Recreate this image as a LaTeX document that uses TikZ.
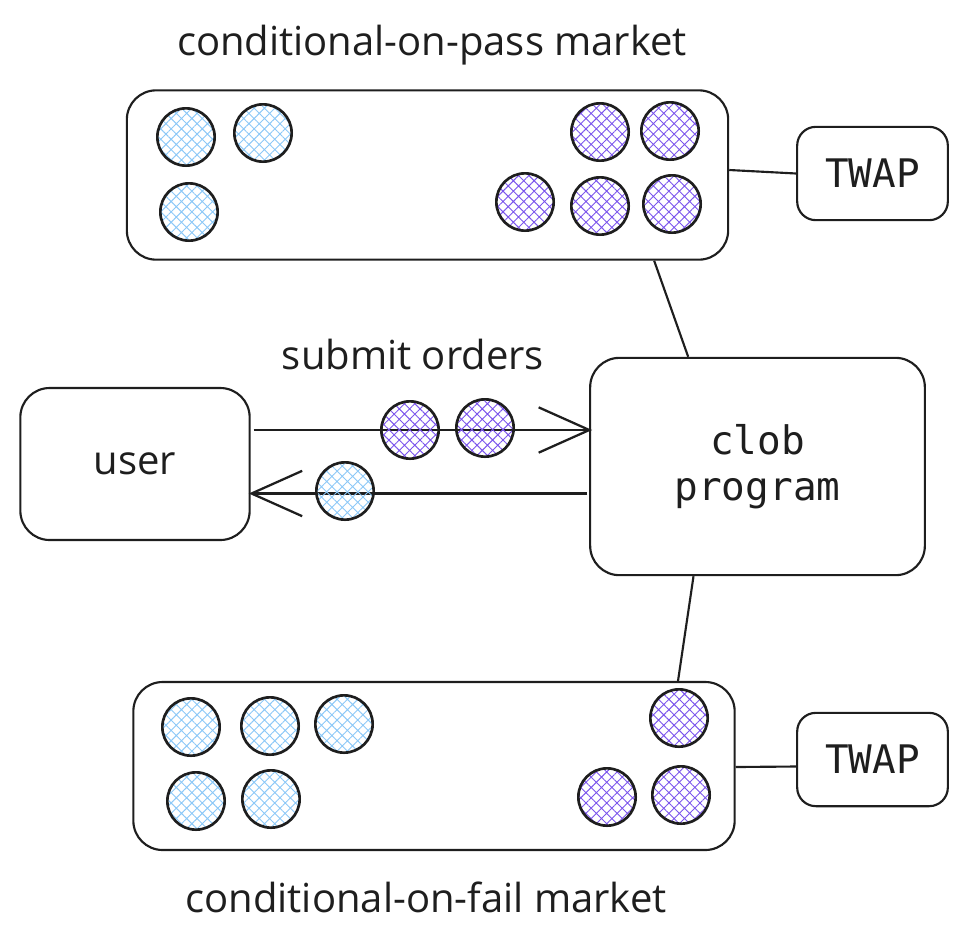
\documentclass[tikz,border=0pt]{standalone}
\usepackage{fontspec}
\setmainfont{Open Sans}
\setmonofont{DejaVu Sans Mono}
\usetikzlibrary{arrows.meta,patterns.meta,calc}
\definecolor{ink}{HTML}{1E1E1E}
\definecolor{bluehatch}{HTML}{8CC8F7}
\definecolor{purplehatch}{HTML}{7B55EC}
\begin{document}
\begin{tikzpicture}[x=0.75pt,y=-0.75pt,
  box/.style={draw=ink, line width=1.6pt, rounded corners=22pt, inner sep=0pt},
  bdot/.style={circle, draw=ink, line width=2pt, minimum size=43pt, inner sep=0pt,
    pattern={Hatch[angle=45,distance=5.5pt,line width=0.7pt]}, pattern color=bluehatch},
  pdot/.style={circle, draw=ink, line width=2pt, minimum size=43pt, inner sep=0pt,
    pattern={Hatch[angle=45,distance=5.5pt,line width=0.7pt]}, pattern color=purplehatch},
  hand/.style={font=\fontsize{30}{34}\selectfont, text=ink},
  mono/.style={font=\ttfamily\fontsize{29.5}{35}\selectfont, text=ink, align=center},
  link/.style={draw=ink, line width=1.6pt},
  arr/.style={draw=ink, line width=1.7pt, -{Straight Barb[length=38pt,width=34pt,line width=1.7pt]}}
]
\useasboundingbox (0,0) rectangle (969,943);

% boxes
\node[box, minimum width=451pt, minimum height=127pt] (pass) at (427.5,175) {};
\node[box, minimum width=451pt, minimum height=126pt] (fail) at (434,766) {};
\node[box, minimum width=172pt, minimum height=114pt, hand] (user) at (135,464) {user};
\node[box, minimum width=251pt, minimum height=163pt, mono] (clob) at (757.5,466.5) {clob\\program};
\node[box, minimum width=113pt, minimum height=70pt, rounded corners=14pt, mono] (twapA) at (872.5,173.5) {TWAP};
\node[box, minimum width=113pt, minimum height=70pt, rounded corners=14pt, mono] (twapB) at (872.5,759.5) {TWAP};

% titles
\node[hand] (tpass) at (432,45) {conditional-on-pass market};
\node[hand] (tfail) at (426,897) {conditional-on-fail market};
\node[hand] (tsub) at (413,354) {submit orders};

% connectors
\draw[link] ([xshift=170pt]pass.south) -- ([xshift=-52pt]clob.north);
\draw[link] ([xshift=-48pt]clob.south) -- ([xshift=183pt]fail.north);
\draw[link] ([shift={(0,-5)}]pass.east) -- (twapA.west);
\draw[link] ([shift={(0,1)}]fail.east) -- ([shift={(0,7)}]twapB.west);
\draw[arr] ([shift={(3,-34)}]user.east) -- ([shift={(3,-34)}]user.east -| clob.west);
\draw[arr] ([shift={(-2,27)}]clob.west) -- ([shift={(-2,27)}]clob.west -| user.east);

% pass market orders
\node[bdot] (p1) at (186,137) {};
\node[bdot] (p2) at (263,133) {};
\node[bdot] (p3) at (189,212) {};
\node[pdot] (p4) at (600,132) {};
\node[pdot] (p5) at (670,131) {};
\node[pdot] (p6) at (525,202) {};
\node[pdot] (p7) at (600,206) {};
\node[pdot] (p8) at (672,204) {};

% fail market orders
\node[bdot] (f1) at (191,727) {};
\node[bdot] (f2) at (270,726) {};
\node[bdot] (f3) at (344,724) {};
\node[bdot] (f4) at (196,801) {};
\node[bdot] (f5) at (271,799) {};
\node[pdot] (f6) at (679,718) {};
\node[pdot] (f7) at (607,797) {};
\node[pdot] (f8) at (681,795) {};

% orders in transit
\node[pdot] (o1) at (410,430) {};
\node[pdot] (o2) at (485,428) {};
\node[bdot] (o3) at (345,491) {};
\end{tikzpicture}
\end{document}
